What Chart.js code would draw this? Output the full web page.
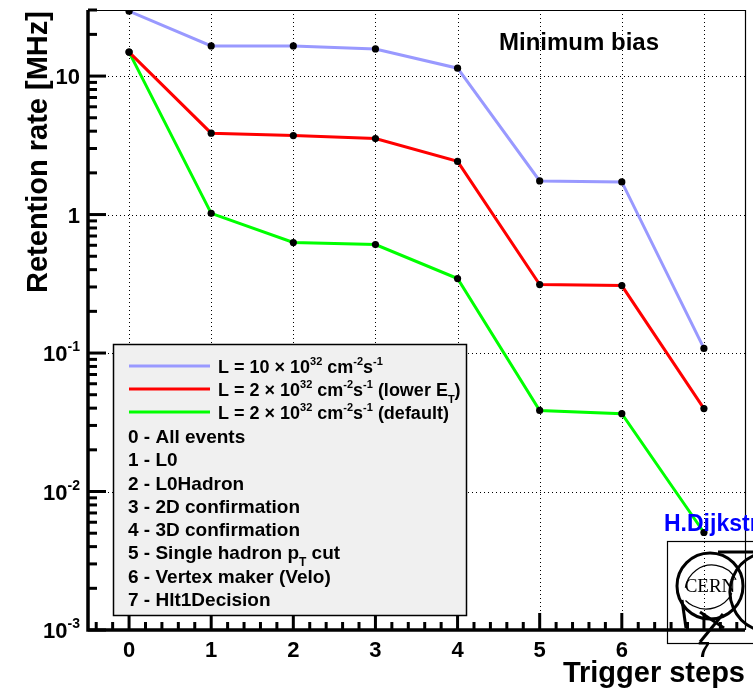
<!DOCTYPE html>
<html>
<head>
<meta charset="utf-8">
<script src="https://cdn.jsdelivr.net/npm/chart.js@4/dist/chart.umd.min.js"></script>
<style>
html,body{margin:0;padding:0;background:#fff;}
#wrap{width:753px;height:691px;position:relative;}
</style>
</head>
<body>
<div id="wrap"><canvas id="c" width="753" height="691"></canvas></div>
<script>
// ---- data ----
const steps = [0, 1, 2, 3, 4, 5, 6, 7];
const stepNames = ['All events', 'L0', 'L0Hadron', '2D confirmation', '3D confirmation', 'Single hadron p_{T} cut', 'Vertex maker (Velo)', 'Hlt1Decision'];
const rateL10 = [29.4, 16.5, 16.5, 15.7, 11.4, 1.75, 1.72, 0.108];
const rateL2lowEt = [14.9, 3.87, 3.72, 3.54, 2.42, 0.312, 0.307, 0.0397];
const rateL2default = [14.9, 1.02, 0.628, 0.607, 0.345, 0.0385, 0.0365, 0.00506];
const seriesNames = ['L = 10 × 10^{32} cm^{-2}s^{-1}', 'L = 2 × 10^{32} cm^{-2}s^{-1} (lower E_{T})', 'L = 2 × 10^{32} cm^{-2}s^{-1} (default)'];
const yTickValues = [0.001, 0.01, 0.1, 1, 10];
const xTickLabels = ['0', '1', '2', '3', '4', '5', '6', '7'];
const titleText = 'Minimum bias';
const xTitle = 'Trigger steps';
const yTitle = 'Retention rate [MHz]';
const authorText = 'H.Dijkstra';

const colors = ['#9999ff', '#ff0000', '#00ff00'];
const FONT = '"Liberation Sans", Arial, Helvetica, sans-serif';

function toPts(arr) { return steps.map((s, i) => ({x: s, y: arr[i]})); }

// parse "^{sup}" and "_{sub}" markup into segments
function parseRich(str) {
  const segs = [];
  const re = /([\^_])\{([^}]*)\}/g;
  let last = 0, m;
  while ((m = re.exec(str)) !== null) {
    if (m.index > last) segs.push({t: str.slice(last, m.index), m: 0});
    segs.push({t: m[2], m: m[1] === '^' ? 1 : -1});
    last = re.lastIndex;
  }
  if (last < str.length) segs.push({t: str.slice(last), m: 0});
  return segs;
}
function plainText(str) { return parseRich(str).map(s => s.t).join(''); }
function richWidth(ctx, segs, size) {
  let w = 0;
  segs.forEach(s => {
    ctx.font = 'bold ' + (s.m ? Math.round(size * 0.62) : size) + 'px ' + FONT;
    w += ctx.measureText(s.t).width;
  });
  return w;
}
function drawRich(ctx, str, x, y, size, align) {
  const segs = parseRich(str);
  let w = richWidth(ctx, segs, size);
  let cx = align === 'right' ? x - w : (align === 'center' ? x - w / 2 : x);
  ctx.textBaseline = 'alphabetic';
  ctx.textAlign = 'left';
  segs.forEach(s => {
    const fs = s.m ? Math.round(size * 0.62) : size;
    ctx.font = 'bold ' + fs + 'px ' + FONT;
    const dy = s.m === 1 ? -size * 0.45 : (s.m === -1 ? size * 0.38 : 0);
    ctx.fillText(s.t, cx, y + dy);
    cx += ctx.measureText(s.t).width;
  });
}

const rootPlugin = {
  id: 'rootStyle',
  beforeDatasetsDraw(chart) {
    const ctx = chart.ctx, a = chart.chartArea;
    const xs = chart.scales.x, ys = chart.scales.y;
    ctx.save();
    ctx.strokeStyle = '#000';
    ctx.lineWidth = 1;
    ctx.setLineDash([1, 3]);
    steps.forEach(s => {
      const px = Math.round(xs.getPixelForValue(s)) + 0.5;
      ctx.beginPath(); ctx.moveTo(px, a.top); ctx.lineTo(px, a.bottom); ctx.stroke();
    });
    yTickValues.forEach(v => {
      const py = Math.round(ys.getPixelForValue(v)) + 0.5;
      if (py <= a.top + 1 || py >= a.bottom - 1) return;
      ctx.beginPath(); ctx.moveTo(a.left, py); ctx.lineTo(a.right, py); ctx.stroke();
    });
    ctx.restore();
  },
  afterDatasetsDraw(chart) {
    const ctx = chart.ctx, a = chart.chartArea;
    const xs = chart.scales.x, ys = chart.scales.y;
    ctx.save();
    ctx.setLineDash([]);
    ctx.fillStyle = '#000';
    ctx.strokeStyle = '#000';

    // frame: thin top/right
    ctx.lineWidth = 1.2;
    ctx.beginPath(); ctx.moveTo(a.left, a.top + 0.5); ctx.lineTo(a.right + 0.5, a.top + 0.5); ctx.lineTo(a.right + 0.5, a.bottom); ctx.stroke();

    // y ticks (inside)
    ctx.lineWidth = 3;
    const ymin = ys.min, ymax = ys.max;
    for (let e = -3; e <= 1; e++) {
      for (let m = 1; m <= 9; m++) {
        const v = m * Math.pow(10, e);
        if (v < ymin * 0.999 || v > ymax * 1.001) continue;
        const py = ys.getPixelForValue(v);
        const len = m === 1 ? 18 : 9;
        ctx.beginPath(); ctx.moveTo(a.left, py); ctx.lineTo(a.left + len, py); ctx.stroke();
      }
    }
    // x ticks (inside)
    for (let k = -2; k <= 37; k++) {
      const v = k * 0.2;
      if (v <= xs.min || v >= xs.max) continue;
      const px = xs.getPixelForValue(v);
      const len = (k % 5 === 0) ? 17 : 8;
      ctx.beginPath(); ctx.moveTo(px, a.bottom); ctx.lineTo(px, a.bottom - len); ctx.stroke();
    }
    // axis lines
    ctx.lineWidth = 3.5;
    ctx.beginPath(); ctx.moveTo(a.left, a.top); ctx.lineTo(a.left, a.bottom); ctx.lineTo(a.right, a.bottom); ctx.stroke();

    // y tick labels
    yTickValues.forEach(v => {
      const e = Math.round(Math.log10(v));
      const py = ys.getPixelForValue(v);
      let s = e === 0 ? '1' : (e === 1 ? '10' : '10^{' + e + '}');
      drawRich(ctx, s, 80, py + 8, 22, 'right');
    });
    // x tick labels
    ctx.font = 'bold 22px ' + FONT;
    ctx.textAlign = 'center'; ctx.textBaseline = 'alphabetic';
    steps.forEach((s, i) => {
      ctx.fillText(xTickLabels[i], xs.getPixelForValue(s), 657);
    });

    // axis titles
    ctx.font = 'bold 29px ' + FONT;
    ctx.textAlign = 'right'; ctx.textBaseline = 'alphabetic';
    ctx.fillText(xTitle, a.right, 682);
    ctx.save();
    ctx.translate(47, 152);
    ctx.rotate(-Math.PI / 2);
    ctx.textAlign = 'center';
    ctx.fillText(yTitle, 0, 0);
    ctx.restore();

    // title text
    ctx.font = 'bold 24px ' + FONT;
    ctx.textAlign = 'left';
    ctx.fillText(titleText, 499, 50);

    // legend box
    const lx = 113, ly = 344, lw = 353, lh = 271;
    ctx.fillStyle = '#f0f0f0';
    ctx.fillRect(lx, ly, lw, lh);
    ctx.lineWidth = 1.5;
    ctx.strokeStyle = '#000';
    ctx.strokeRect(lx + 0.5, ly + 0.5, lw, lh);
    ctx.fillStyle = '#000';
    const rowY = [366, 389, 412, 436, 459, 483, 506, 529, 552, 576, 599];
    chart.data.datasets.forEach((ds, i) => {
      const y = rowY[i];
      ctx.strokeStyle = ds.borderColor;
      ctx.lineWidth = 3;
      ctx.beginPath(); ctx.moveTo(129, y); ctx.lineTo(210, y); ctx.stroke();
      ctx.fillStyle = '#000';
      drawRich(ctx, seriesNames[i], 218, y + 7, 18, 'left');
    });
    stepNames.forEach((n, i) => {
      drawRich(ctx, steps[i] + ' - ' + n, 128, rowY[i + 3] + 7, 19, 'left');
    });

    // author text
    ctx.fillStyle = '#0000ff';
    ctx.font = 'bold 23px ' + FONT;
    ctx.textAlign = 'left';
    ctx.fillText(authorText, 664, 531);

    // CERN logo (approximation)
    ctx.strokeStyle = '#000';
    ctx.fillStyle = '#000';
    ctx.lineWidth = 1.2;
    ctx.strokeRect(667.5, 541.5, 130, 102);
    ctx.lineWidth = 3;
    ctx.beginPath(); ctx.arc(710, 586, 33, 0, Math.PI * 2); ctx.stroke();
    ctx.beginPath(); ctx.moveTo(718, 552); ctx.lineTo(760, 552); ctx.stroke();
    ctx.beginPath(); ctx.arc(770, 592, 40, Math.PI * 0.62, Math.PI * 1.38); ctx.stroke();
    ctx.beginPath(); ctx.moveTo(682, 600); ctx.lineTo(686, 628); ctx.stroke();
    ctx.beginPath(); ctx.moveTo(723, 614); ctx.lineTo(700, 642); ctx.stroke();
    ctx.beginPath(); ctx.moveTo(700, 612); ctx.lineTo(724, 628); ctx.stroke();
    ctx.lineWidth = 1.2;
    ctx.beginPath(); ctx.arc(712, 592, 27, Math.PI * 1.05, Math.PI * 1.85); ctx.stroke();
    ctx.beginPath(); ctx.arc(706, 580, 29, Math.PI * 0.15, Math.PI * 0.75); ctx.stroke();
    ctx.font = '19px "Liberation Serif", "DejaVu Serif", serif';
    ctx.textAlign = 'center'; ctx.textBaseline = 'middle';
    ctx.fillText('CERN', 710, 587);

    ctx.restore();
  }
};

new Chart(document.getElementById('c'), {
  type: 'line',
  data: {
    datasets: [
      {label: plainText(seriesNames[0]), data: toPts(rateL10), borderColor: colors[0]},
      {label: plainText(seriesNames[1]), data: toPts(rateL2lowEt), borderColor: colors[1]},
      {label: plainText(seriesNames[2]), data: toPts(rateL2default), borderColor: colors[2]}
    ].map(d => Object.assign(d, {
      borderWidth: 3, tension: 0, pointRadius: 3.6, pointHoverRadius: 3.6,
      pointBackgroundColor: '#000', pointBorderColor: '#000', pointBorderWidth: 0, fill: false
    }))
  },
  options: {
    responsive: false,
    animation: false,
    devicePixelRatio: 1,
    layout: {padding: {top: 10, right: 8, left: 0, bottom: 0}},
    plugins: {legend: {display: false}, tooltip: {enabled: false}, title: {display: false}},
    scales: {
      x: {
        type: 'linear', min: -0.5, max: 7.5,
        ticks: {display: false}, grid: {display: false}, border: {display: false},
        afterFit(s) { s.height = 61; }
      },
      y: {
        type: 'logarithmic', min: 0.001, max: 30,
        ticks: {display: false}, grid: {display: false}, border: {display: false},
        afterFit(s) { s.width = 88; }
      }
    }
  },
  plugins: [rootPlugin]
});
</script>
</body>
</html>
